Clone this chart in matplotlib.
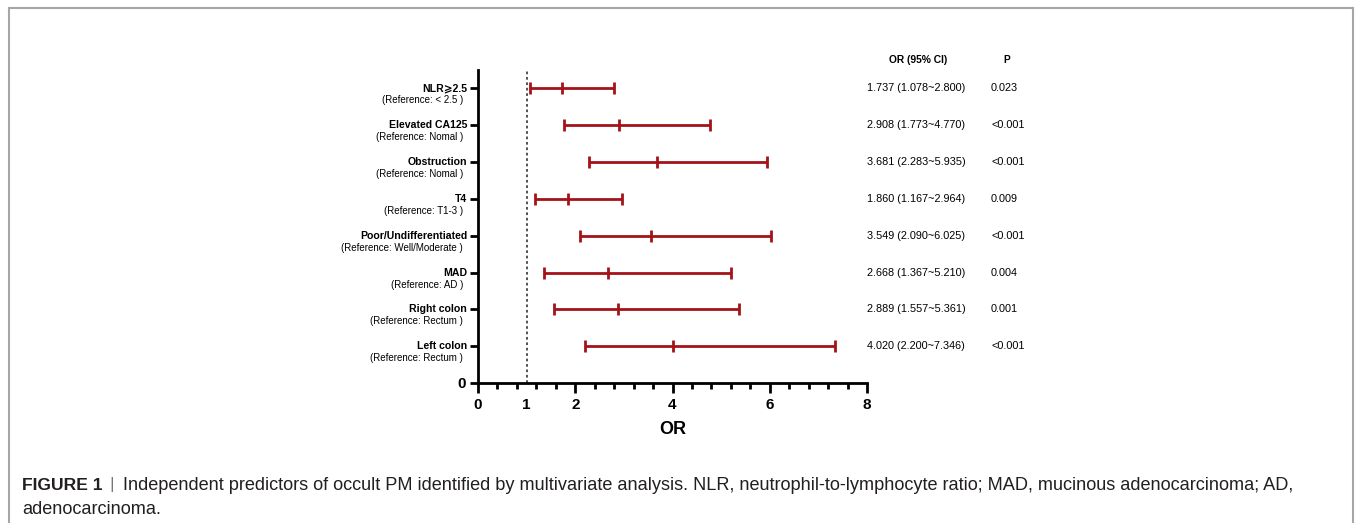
import numpy as np
import matplotlib
matplotlib.use('Agg')
import matplotlib.pyplot as plt
from matplotlib.lines import Line2D
from matplotlib.transforms import blended_transform_factory, offset_copy

plt.rcParams['font.family'] = ['Liberation Sans', 'DejaVu Sans']

# data, top to bottom
names = ["NLR\u2a7e2.5", "Elevated CA125", "Obstruction", "T4",
         "Poor/Undifferentiated", "MAD", "Right colon", "Left colon"]
refs = ["(Reference: < 2.5 )", "(Reference: Nomal )", "(Reference: Nomal )",
        "(Reference: T1-3 )", "(Reference: Well/Moderate )", "(Reference: AD )",
        "(Reference: Rectum )", "(Reference: Rectum )"]
odds = [1.737, 2.908, 3.681, 1.860, 3.549, 2.668, 2.889, 4.020]
lows = [1.078, 1.773, 2.283, 1.167, 2.090, 1.367, 1.557, 2.200]
highs = [2.800, 4.770, 5.935, 2.964, 6.025, 5.210, 5.361, 7.346]
pvals = ["0.023", "<0.001", "<0.001", "0.009", "<0.001", "0.004", "0.001", "<0.001"]

W, H = 1355, 523
fig = plt.figure(figsize=(W / 100, H / 100), dpi=100)
ax = fig.add_axes([478 / W, (H - 383) / H, 389 / W, 313 / H])

red = '#a31318'
n = len(names)
ypos = np.arange(n, 0, -1)

ax.hlines(ypos, lows, highs, color=red, lw=2)
for y, lo, od, hi in zip(ypos, lows, odds, highs):
    ax.plot([lo, od, hi], [y, y, y], ls='none', marker='|', ms=8, mew=2, color=red)

ax.axvline(1, ymin=0, ymax=1, color='#444444', ls=(0, (1.5, 1.5)), lw=1.3)

ax.set_xlim(0, 8)
ax.set_ylim(0, 8.5)
for s in ['top', 'right']:
    ax.spines[s].set_visible(False)
for s in ['left', 'bottom']:
    ax.spines[s].set_linewidth(2)

ax.set_xticks([0, 1, 2, 4, 6, 8])
ax.set_xticks(np.arange(0.4, 8, 0.4), minor=True)
ax.tick_params(axis='x', which='major', length=7, width=2, labelsize=11, pad=4)
ax.tick_params(axis='x', which='minor', length=4, width=2)
ax.xaxis.get_major_ticks()[1].tick1line.set_visible(False)
for t in ax.get_xticklabels():
    t.set_fontweight('bold')
ax.set_xlabel("OR", fontsize=13, fontweight='bold', labelpad=6)

ax.set_yticks(list(ypos) + [0])
ax.set_yticklabels([""] * n + ["0"])
ax.tick_params(axis='y', length=6, width=2, labelsize=11, pad=3)
for t in ax.get_yticklabels():
    t.set_fontweight('bold')

ytr = blended_transform_factory(ax.transAxes, ax.transData)
for y, nm, rf in zip(ypos, names, refs):
    ax.text(-0.028, y, nm, transform=ytr, ha='right', va='center', fontsize=7.6,
            fontweight='bold')
    ax.text(-0.038, y, rf, transform=offset_copy(ytr, fig=fig, x=0, y=-12, units='dots'),
            ha='right', va='center', fontsize=7.0)

# right-hand table
rtr = blended_transform_factory(fig.transFigure, ax.transData)
fig.text(918 / W, 1 - 60 / H, "OR (95% CI)", ha='center', va='center', fontsize=7.4,
         fontweight='bold')
fig.text(1007 / W, 1 - 60 / H, "P", ha='center', va='center', fontsize=7.4,
         fontweight='bold')
for y, od, lo, hi, p in zip(ypos, odds, lows, highs, pvals):
    ax.text(867 / W, y, f"{od:.3f} ({lo:.3f}~{hi:.3f})", transform=rtr,
            ha='left', va='center', fontsize=7.8)
    ax.text(991 / W, y, p, transform=rtr, ha='left', va='center', fontsize=7.8)

# frame
fc = '#a6a6a6'
fig.add_artist(Line2D([9 / W, 9 / W], [0, 1 - 8 / H], color=fc, lw=1.5))
fig.add_artist(Line2D([9 / W, 1353 / W], [1 - 8 / H, 1 - 8 / H], color=fc, lw=1.5))
fig.add_artist(Line2D([1353 / W, 1353 / W], [0, 1 - 8 / H], color=fc, lw=1.5))

# caption
cap1 = ("Independent predictors of occult PM identified by multivariate analysis. "
        "NLR, neutrophil-to-lymphocyte ratio; MAD, mucinous adenocarcinoma; AD,")
cc = '#231f20'
fig.text(22 / W, 1 - 485 / H, "FIGURE 1", ha='left', va='center', fontsize=12.6,
         fontweight='bold', color=cc)
fig.text(112 / W, 1 - 485 / H, "|", ha='center', va='center', fontsize=12.6, color='#777777')
fig.text(123 / W, 1 - 485 / H, cap1, ha='left', va='center', fontsize=13.1, color=cc)
fig.text(22 / W, 1 - 510 / H, "adenocarcinoma.", ha='left', va='center', fontsize=13.1,
         color=cc)

fig.savefig('out.png', dpi=100)
